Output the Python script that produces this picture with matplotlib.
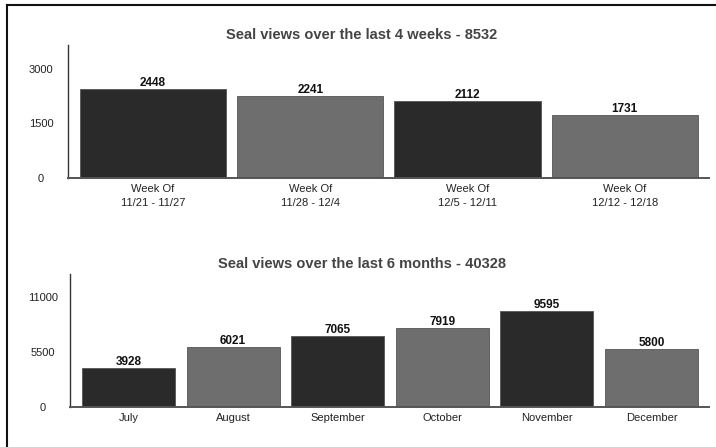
import matplotlib
matplotlib.use("Agg")
import matplotlib.pyplot as plt
from matplotlib.lines import Line2D

plt.rcParams['font.family'] = ['Liberation Sans', 'DejaVu Sans']

# Weekly seal views
week_labels = ["Week Of\n11/21 - 11/27", "Week Of\n11/28 - 12/4",
               "Week Of\n12/5 - 12/11", "Week Of\n12/12 - 12/18"]
week_values = [2448, 2241, 2112, 1731]
week_total = 8532
week_ticks = [0, 1500, 3000]

# Monthly seal views
month_labels = ["July", "August", "September", "October", "November", "December"]
month_values = [3928, 6021, 7065, 7919, 9595, 5800]
month_total = 40328
month_ticks = [0, 5500, 11000]

DARK = "#2a2a2a"
GREY = "#6e6e6e"
TEXT = "#222222"
W, H = 716, 447

fig = plt.figure(figsize=(W / 100, H / 100), dpi=100)
fig.patch.set_facecolor("white")

# page border (top and left edges)
fig.add_artist(Line2D([7 / W, 1.0], [1 - 5 / H, 1 - 5 / H], color="#111111", lw=1.5,
                      transform=fig.transFigure))
fig.add_artist(Line2D([7 / W, 7 / W], [0, 1 - 5 / H], color="#111111", lw=1.5,
                      transform=fig.transFigure))


def bar_panel(rect, labels, values, ticks, ylim, xlim, width, title, title_y):
    ax = fig.add_axes(rect)
    x = list(range(len(values)))
    colors = [DARK if i % 2 == 0 else GREY for i in x]
    ax.bar(x, values, width=width, color=colors, edgecolor="#555555", linewidth=0.6)
    for xi, v in zip(x, values):
        ax.text(xi, v, f"{v}", ha="center", va="bottom", fontsize=8.5,
                fontweight="bold", color="#111111")
    ax.set_xlim(*xlim)
    ax.set_ylim(0, ylim)
    ax.set_xticks(x)
    ax.set_xticklabels(labels, fontsize=8, color=TEXT, linespacing=1.6)
    ax.set_yticks(ticks)
    ax.set_yticklabels([str(t) for t in ticks], fontsize=8, color=TEXT)
    ax.tick_params(length=0, pad=4)
    ax.tick_params(axis="y", pad=19.5)
    for lab in ax.get_yticklabels():
        lab.set_horizontalalignment("center")
    for s in ("top", "right"):
        ax.spines[s].set_visible(False)
    ax.spines["left"].set_color("#333333")
    ax.spines["bottom"].set_color("#555555")
    ax.spines["left"].set_linewidth(1.0)
    ax.spines["bottom"].set_linewidth(1.4)
    fig.text(362 / W, title_y, title, ha="center", va="center", fontsize=10.5,
             fontweight="bold", color="#444444")
    return ax


bar_panel([68 / W, 1 - 178 / H, (709 - 68) / W, (178 - 45) / H],
          week_labels, week_values, week_ticks, 3650, (-0.54, 3.535), 0.93,
          f"Seal views over the last 4 weeks - {week_total}", 1 - 35 / H)

bar_panel([70 / W, 1 - 407 / H, (709 - 70) / W, (407 - 274) / H],
          month_labels, month_values, month_ticks, 13300, (-0.56, 5.55), 0.89,
          f"Seal views over the last 6 months - {month_total}", 1 - 264 / H)

fig.savefig("out.png", dpi=100, facecolor="white")
